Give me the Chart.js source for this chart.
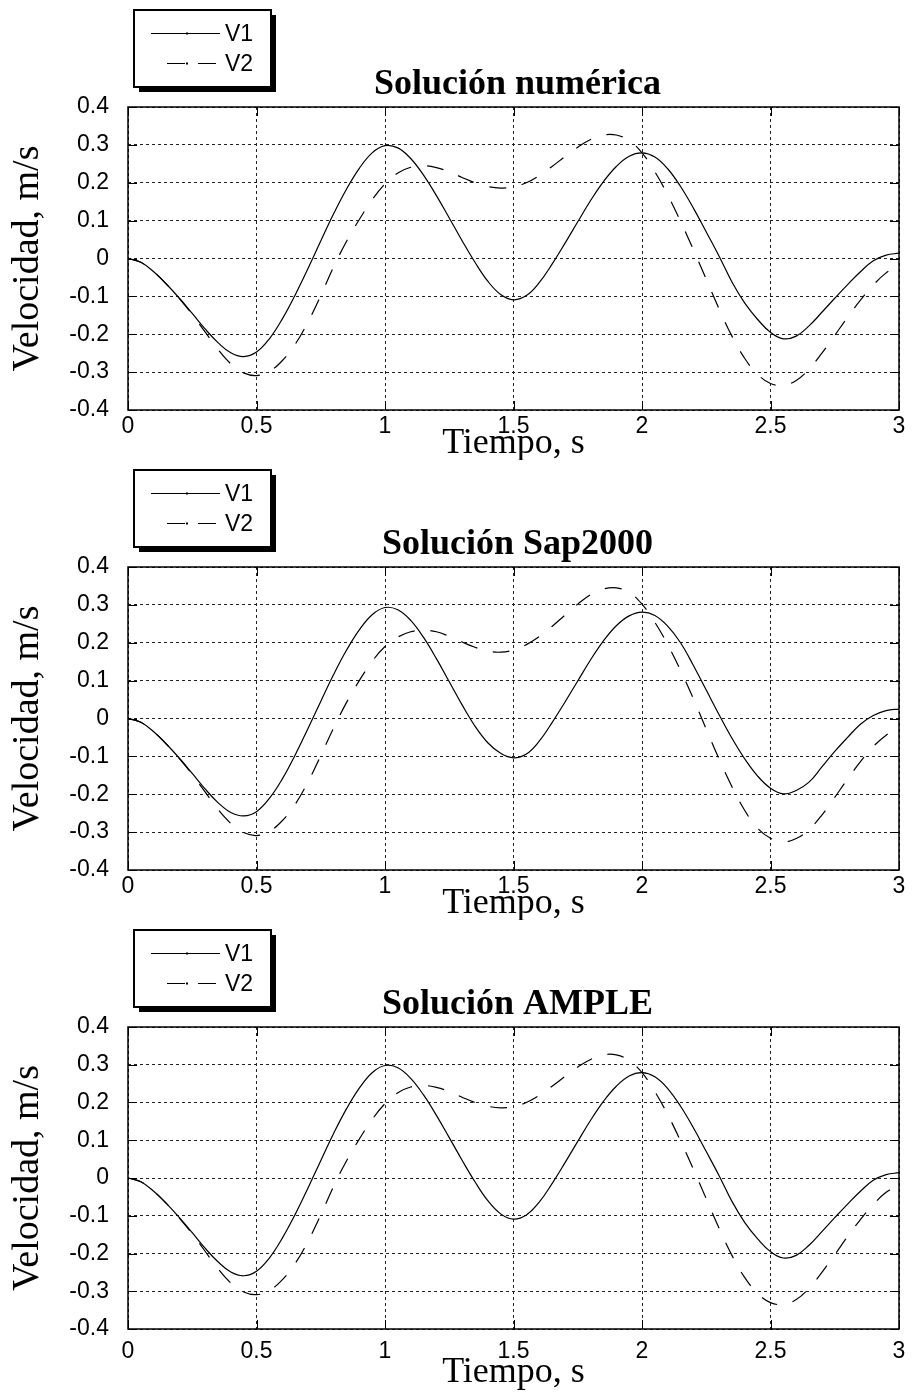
<!DOCTYPE html>
<html>
<head>
<meta charset="utf-8">
<script src="https://cdn.jsdelivr.net/npm/chart.js@4.4.0/dist/chart.umd.min.js"></script>
<style>
  html, body { margin: 0; padding: 0; background: #fff; }
  body { width: 912px; height: 1395px; position: relative; overflow: hidden; }
  .panel { position: absolute; left: 0; width: 912px; }
  .panel canvas { position: absolute; left: 0; top: 0; }
</style>
</head>
<body>
<div class="panel" style="top:0;height:460px"><canvas id="c1" width="912" height="460"></canvas></div>
<div class="panel" style="top:460px;height:460px"><canvas id="c2" width="912" height="460"></canvas></div>
<div class="panel" style="top:920px;height:475px"><canvas id="c3" width="912" height="475"></canvas></div>
<script>
// Time samples (s)
const tiempo = [0.00, 0.05, 0.10, 0.15, 0.20, 0.25, 0.30, 0.35, 0.40, 0.45,
                0.50, 0.55, 0.60, 0.65, 0.70, 0.75, 0.80, 0.85, 0.90, 0.95,
                1.00, 1.05, 1.10, 1.15, 1.20, 1.25, 1.30, 1.35, 1.40, 1.45,
                1.50, 1.55, 1.60, 1.65, 1.70, 1.75, 1.80, 1.85, 1.90, 1.95,
                2.00, 2.05, 2.10, 2.15, 2.20, 2.25, 2.30, 2.35, 2.40, 2.45,
                2.50, 2.55, 2.60, 2.65, 2.70, 2.75, 2.80, 2.85, 2.90, 2.95, 3.00];

const xTicks = [0, 0.5, 1, 1.5, 2, 2.5, 3];
const yTicks = [-0.4, -0.3, -0.2, -0.1, 0, 0.1, 0.2, 0.3, 0.4];
const seriesNames = ['V1', 'V2'];
const titulos = ['Solución numérica', 'Solución Sap2000', 'Solución AMPLE'];
const xTitle = 'Tiempo, s';
const yTitle = 'Velocidad, m/s';

// Velocities (m/s) – numerical solution
const v1Numerica = [0, -0.01, -0.035, -0.068, -0.105, -0.145, -0.186, -0.222, -0.249, -0.259,
                    -0.247, -0.212, -0.16, -0.097, -0.027, 0.046, 0.118, 0.183, 0.238, 0.279,
                    0.298, 0.292, 0.264, 0.22, 0.166, 0.107, 0.047, -0.01, -0.06, -0.095,
                    -0.109, -0.098, -0.064, -0.015, 0.04, 0.097, 0.153, 0.203, 0.243, 0.27,
                    0.279, 0.268, 0.237, 0.19, 0.133, 0.07, 0.006, -0.062, -0.118, -0.161,
                    -0.195, -0.212, -0.205, -0.178, -0.142, -0.105, -0.069, -0.035, -0.006, 0.009, 0.014];
const v2Numerica = [0, -0.01, -0.035, -0.068, -0.106, -0.148, -0.194, -0.24, -0.278, -0.302,
                    -0.309, -0.298, -0.27, -0.227, -0.168, -0.098, -0.022, 0.045, 0.103, 0.155,
                    0.197, 0.226, 0.241, 0.245, 0.24, 0.229, 0.214, 0.2, 0.19, 0.186,
                    0.189, 0.2, 0.219, 0.243, 0.269, 0.294, 0.314, 0.326, 0.326, 0.311,
                    0.279, 0.229, 0.168, 0.098, 0.023, -0.055, -0.133, -0.205, -0.264, -0.306,
                    -0.33, -0.335, -0.322, -0.292, -0.25, -0.203, -0.155, -0.11, -0.07, -0.038, -0.018];

// Velocities (m/s) – Sap2000
const v1Sap = [0, -0.01, -0.035, -0.068, -0.105, -0.145, -0.186, -0.222, -0.248, -0.257,
               -0.246, -0.211, -0.16, -0.097, -0.027, 0.045, 0.116, 0.18, 0.234, 0.274,
               0.293, 0.287, 0.259, 0.214, 0.158, 0.097, 0.036, -0.02, -0.064, -0.092,
               -0.104, -0.094, -0.06, -0.011, 0.043, 0.099, 0.155, 0.205, 0.245, 0.271,
               0.281, 0.272, 0.244, 0.2, 0.14, 0.075, 0.01, -0.052, -0.107, -0.152,
               -0.184, -0.199, -0.19, -0.168, -0.128, -0.087, -0.05, -0.015, 0.008, 0.021, 0.025];
const v2Sap = [0, -0.01, -0.035, -0.068, -0.106, -0.148, -0.194, -0.24, -0.277, -0.301,
               -0.309, -0.298, -0.27, -0.227, -0.168, -0.098, -0.025, 0.042, 0.1, 0.151,
               0.19, 0.215, 0.229, 0.233, 0.229, 0.217, 0.202, 0.188, 0.178, 0.175,
               0.181, 0.195, 0.216, 0.243, 0.273, 0.302, 0.327, 0.342, 0.345, 0.333,
               0.302, 0.254, 0.195, 0.127, 0.052, -0.028, -0.107, -0.18, -0.243, -0.29,
               -0.316, -0.326, -0.317, -0.293, -0.255, -0.208, -0.16, -0.114, -0.074, -0.044, -0.025];

// Velocities (m/s) – AMPLE
const v1Ample = [0, -0.01, -0.035, -0.068, -0.105, -0.145, -0.186, -0.222, -0.249, -0.259,
                 -0.247, -0.212, -0.16, -0.097, -0.027, 0.046, 0.118, 0.183, 0.238, 0.279,
                 0.298, 0.292, 0.264, 0.22, 0.166, 0.107, 0.047, -0.01, -0.06, -0.095,
                 -0.109, -0.098, -0.064, -0.015, 0.04, 0.097, 0.153, 0.203, 0.243, 0.27,
                 0.279, 0.268, 0.237, 0.19, 0.133, 0.07, 0.006, -0.062, -0.118, -0.161,
                 -0.195, -0.212, -0.205, -0.178, -0.142, -0.105, -0.069, -0.035, -0.006, 0.009, 0.014];
const v2Ample = [0, -0.01, -0.035, -0.068, -0.106, -0.148, -0.194, -0.24, -0.278, -0.302,
                 -0.309, -0.298, -0.27, -0.227, -0.168, -0.098, -0.022, 0.045, 0.103, 0.155,
                 0.197, 0.226, 0.241, 0.245, 0.24, 0.229, 0.214, 0.2, 0.19, 0.186,
                 0.189, 0.2, 0.219, 0.243, 0.269, 0.294, 0.314, 0.326, 0.326, 0.311,
                 0.279, 0.229, 0.168, 0.098, 0.023, -0.055, -0.133, -0.205, -0.264, -0.306,
                 -0.33, -0.335, -0.322, -0.292, -0.25, -0.203, -0.155, -0.11, -0.07, -0.038, -0.018];

const SANS = '"Liberation Sans", Arial, sans-serif';
const SERIF = '"Liberation Serif", "Times New Roman", serif';

// Frame, inward tick marks, panel title and boxed legend with drop shadow
const panelDecor = {
  id: 'panelDecor',
  afterDraw(chart, args, opts) {
    const ctx = chart.ctx;
    const a = chart.chartArea;
    const xs = chart.scales.x, ys = chart.scales.y;
    ctx.save();
    ctx.setLineDash([]);
    ctx.strokeStyle = '#000';
    ctx.lineWidth = 1;
    ctx.beginPath();
    xs.ticks.forEach(t => {
      const px = Math.round(xs.getPixelForValue(t.value)) + 0.5;
      ctx.moveTo(px, a.bottom); ctx.lineTo(px, a.bottom - 9);
      ctx.moveTo(px, a.top); ctx.lineTo(px, a.top + 9);
    });
    ys.ticks.forEach(t => {
      const py = Math.round(ys.getPixelForValue(t.value)) + 0.5;
      ctx.moveTo(a.left, py); ctx.lineTo(a.left + 9, py);
      ctx.moveTo(a.right, py); ctx.lineTo(a.right - 9, py);
    });
    ctx.stroke();
    ctx.lineWidth = 1.5;
    ctx.strokeRect(a.left, a.top, a.right - a.left, a.bottom - a.top);

    // title
    ctx.fillStyle = '#000';
    ctx.font = 'bold 36px ' + SERIF;
    ctx.textAlign = 'center';
    ctx.textBaseline = 'alphabetic';
    ctx.fillText(opts.text, (a.left + a.right) / 2 + 4, a.top - 13);

    // legend box
    const bx = 134, by = 10, bw = 137, bh = 77;
    ctx.fillStyle = '#000';
    ctx.fillRect(bx + 5, by + 5, bw, bh);
    ctx.fillStyle = '#fff';
    ctx.fillRect(bx, by, bw, bh);
    ctx.lineWidth = 2;
    ctx.strokeStyle = '#000';
    ctx.strokeRect(bx, by, bw, bh);

    chart.data.datasets.forEach((ds, i) => {
      const y = by + 23 + i * 30 + 0.5;
      ctx.strokeStyle = ds.borderColor;
      ctx.lineWidth = 1;
      ctx.beginPath();
      if (ds.borderDash && ds.borderDash.length) {
        ctx.setLineDash([18, 13]);
        ctx.moveTo(167, y); ctx.lineTo(217, y);
      } else {
        ctx.setLineDash([]);
        ctx.moveTo(151, y); ctx.lineTo(220, y);
      }
      ctx.stroke();
      ctx.setLineDash([]);
      ctx.fillStyle = ds.borderColor;
      ctx.fillRect(186, y - 1, 2, 2);
      ctx.fillStyle = '#000';
      ctx.font = '23px ' + SANS;
      ctx.textAlign = 'left';
      ctx.textBaseline = 'middle';
      ctx.fillText(ds.label, 225, y + 1);
    });
    ctx.restore();
  }
};

function makePanel(id, title, v1, v2, geom) {
  const toPoints = arr => tiempo.map((t, i) => ({ x: t, y: arr[i] }));
  return new Chart(document.getElementById(id), {
    type: 'line',
    data: {
      datasets: [
        { label: seriesNames[0], data: toPoints(v1), borderColor: '#000', borderWidth: 1.2,
          pointRadius: 0, tension: 0.4, fill: false },
        { label: seriesNames[1], data: toPoints(v2), borderColor: '#000', borderWidth: 1.2,
          borderDash: [17, 16], pointRadius: 0, tension: 0.4, fill: false }
      ]
    },
    options: {
      responsive: false,
      animation: false,
      events: [],
      layout: { padding: { top: 107, right: 13, left: 0, bottom: 0 } },
      plugins: {
        legend: { display: false },
        tooltip: { enabled: false },
        panelDecor: { text: title }
      },
      scales: {
        x: {
          type: 'linear', min: 0, max: 3,
          afterBuildTicks: s => { s.ticks = xTicks.map(v => ({ value: v })); },
          afterFit: s => { s.height = geom.xHeight; },
          grid: { color: '#222', lineWidth: 1, drawTicks: false },
          border: { display: false, dash: [3, 3] },
          ticks: { color: '#000', font: { family: SANS, size: 23, lineHeight: geom.tickLH },
                   padding: 3, autoSkip: false, maxRotation: 0, callback: v => String(v) },
          title: { display: true, text: xTitle, color: '#000',
                   font: { family: SERIF, size: 36, lineHeight: 1 },
                   padding: { top: 0, bottom: geom.titlePad } }
        },
        y: {
          type: 'linear', min: -0.4, max: 0.4,
          afterBuildTicks: s => { s.ticks = yTicks.map(v => ({ value: v })); },
          afterFit: s => { s.width = 128; },
          grid: { color: '#222', lineWidth: 1, drawTicks: false },
          border: { display: false, dash: [3, 3] },
          ticks: { color: '#000', font: { family: SANS, size: 23 }, padding: 19,
                   autoSkip: false, callback: v => String(v) },
          title: { display: true, text: yTitle, color: '#000',
                   font: { family: SERIF, size: 38, lineHeight: 1 },
                   padding: { top: 9, bottom: 0 } }
        }
      }
    },
    plugins: [panelDecor]
  });
}

makePanel('c1', titulos[0], v1Numerica, v2Numerica, { xHeight: 50, tickLH: 1.2, titlePad: -2 });
makePanel('c2', titulos[1], v1Sap, v2Sap, { xHeight: 50, tickLH: 1.2, titlePad: -2 });
makePanel('c3', titulos[2], v1Ample, v2Ample, { xHeight: 66, tickLH: 1.75, titlePad: 4 });
</script>
</body>
</html>
